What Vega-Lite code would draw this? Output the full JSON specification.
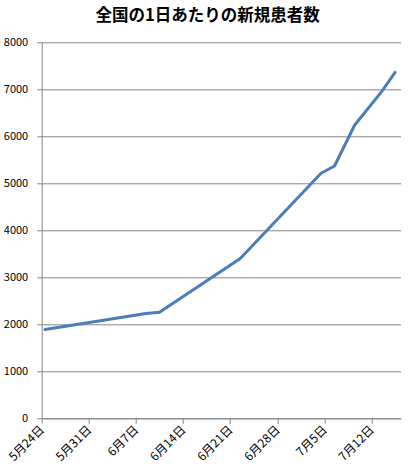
{
  "$schema": "https://vega.github.io/schema/vega-lite/v6.json",
  "width": 359,
  "height": 376,
  "autosize": {"type": "none"},
  "padding": {"left": 41.7, "top": 42.3, "right": 16.3, "bottom": 57.7},
  "background": "white",
  "title": {
    "text": "全国の1日あたりの新規患者数",
    "font": "Noto Sans CJK JP",
    "fontSize": 16.5,
    "fontWeight": "bold",
    "color": "#000000",
    "anchor": "middle",
    "dx": -13.5,
    "offset": 12
  },
  "config": {
    "view": {"stroke": null},
    "font": "Noto Sans CJK JP"
  },
  "data": {
    "values": [
      {"date": "2020-05-24T12:00:00", "cases": 1890},
      {"date": "2020-06-08T12:00:00", "cases": 2230},
      {"date": "2020-06-10T12:00:00", "cases": 2255},
      {"date": "2020-06-22T12:00:00", "cases": 3400},
      {"date": "2020-07-04T12:00:00", "cases": 5213},
      {"date": "2020-07-06T12:00:00", "cases": 5368},
      {"date": "2020-07-09T12:00:00", "cases": 6240},
      {"date": "2020-07-13T12:00:00", "cases": 6950},
      {"date": "2020-07-15T12:00:00", "cases": 7362}
    ]
  },
  "mark": {"type": "line", "color": "#4A7EBB", "strokeWidth": 3, "strokeCap": "round", "strokeJoin": "round"},
  "encoding": {
    "x": {
      "field": "date",
      "type": "temporal",
      "scale": {"domain": ["2020-05-24T00:00:00", "2020-07-16T08:00:00"]},
      "axis": {
        "title": null,
        "values": ["2020-05-24T00:00:00", "2020-05-31T00:00:00", "2020-06-07T00:00:00", "2020-06-14T00:00:00", "2020-06-21T00:00:00", "2020-06-28T00:00:00", "2020-07-05T00:00:00", "2020-07-12T00:00:00"],
        "format": "%-m月%-d日",
        "labelAngle": -45,
        "labelAlign": "right",
        "labelBaseline": "middle",
        "labelPadding": 4,
        "labelFontSize": 12,
        "labelColor": "#000000",
        "labelFont": "Noto Sans CJK JP",
        "grid": false,
        "domainColor": "#868686",
        "tickColor": "#868686",
        "tickSize": 5,
        "labelOverlap": false,
        "labelFlush": false
      }
    },
    "y": {
      "field": "cases",
      "type": "quantitative",
      "scale": {"domain": [0, 8000], "nice": false},
      "axis": {
        "title": null,
        "values": [0, 1000, 2000, 3000, 4000, 5000, 6000, 7000, 8000],
        "format": "d",
        "labelFontSize": 11,
        "labelColor": "#000000",
        "labelFont": "Noto Sans CJK JP",
        "labelPadding": 9,
        "grid": true,
        "gridColor": "#868686",
        "gridWidth": 1,
        "domainColor": "#868686",
        "tickColor": "#868686",
        "tickSize": 5
      }
    }
  }
}
